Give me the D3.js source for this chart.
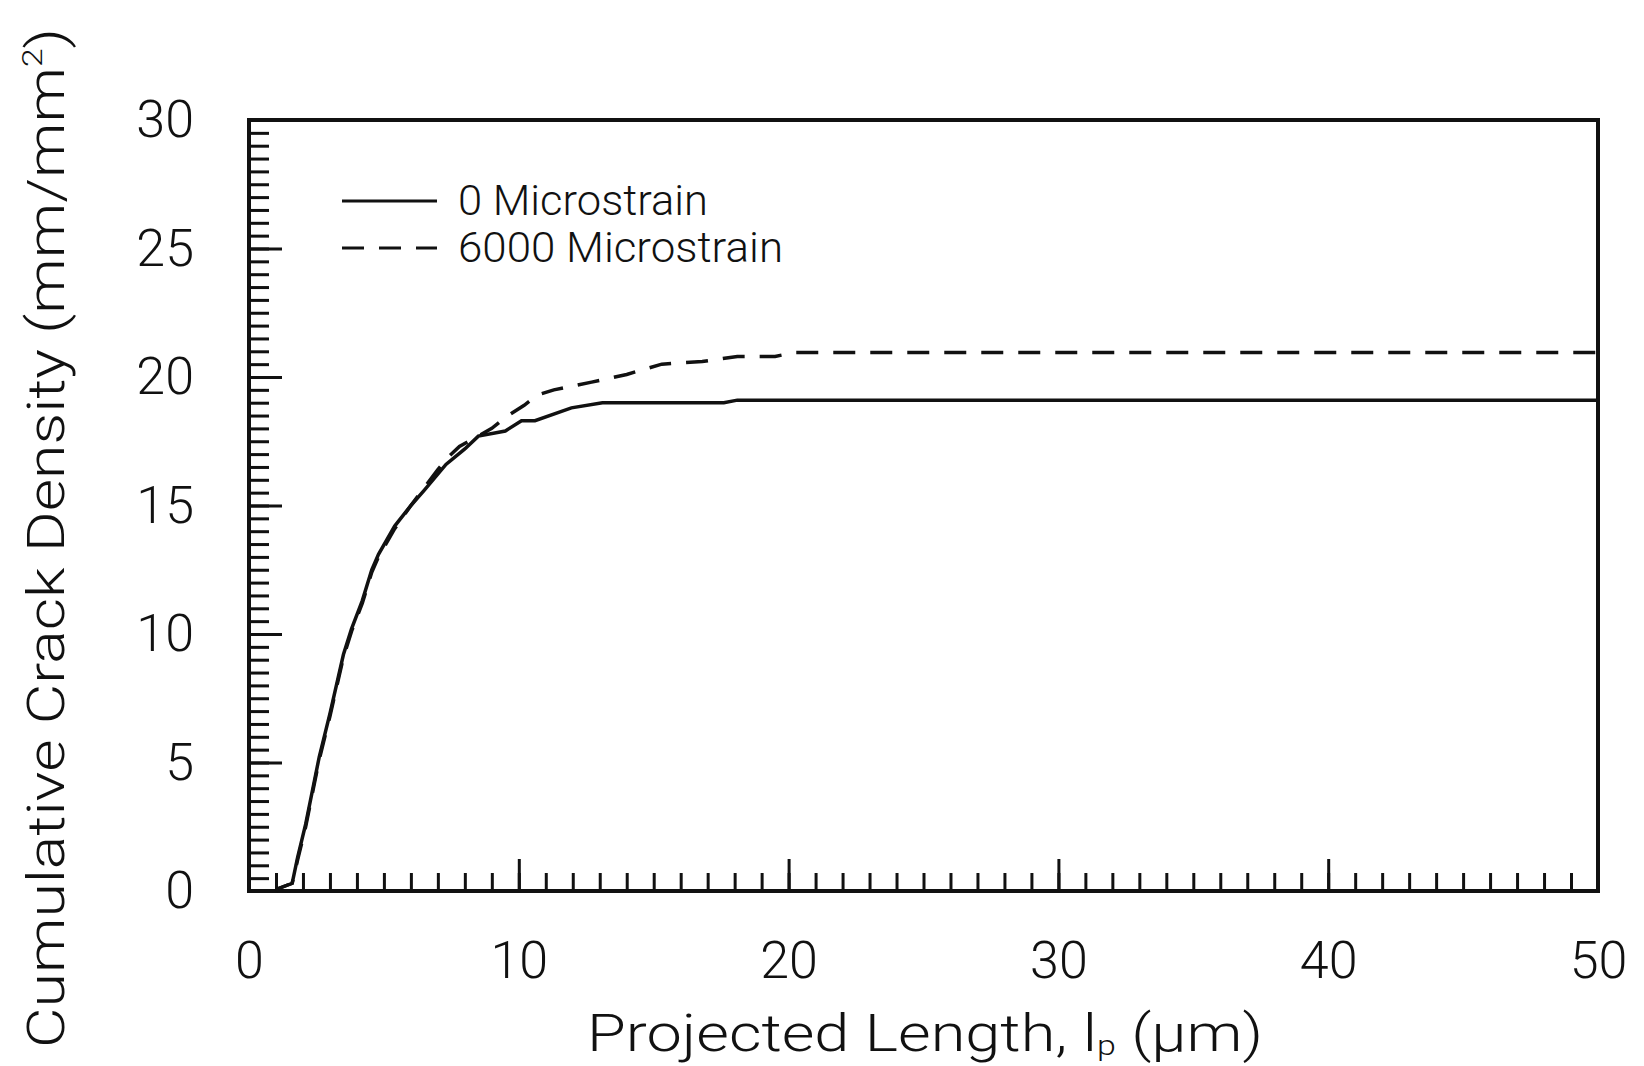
<!DOCTYPE html>
<html>
<head>
<meta charset="utf-8">
<script src="https://cdn.jsdelivr.net/npm/d3@7"></script>
<style>
  html, body { margin: 0; padding: 0; background: #fff; }
  text { font-family: Roboto, "Liberation Sans", sans-serif; font-weight: 300; fill: #111; }
</style>
</head>
<body>
<div id="chart"></div>
<script>
// x values are projected length (um), y values cumulative crack density (mm/mm^2)
const zeroX = [1.0, 1.1, 1.6, 1.8, 2.1, 2.6, 3.0, 3.5, 3.8, 4.2, 4.55, 4.8, 5.4, 6.0, 6.5, 7.3, 8.0, 8.5, 9.5, 10.1, 10.6, 11.95, 13.1, 17.6, 18.1, 50];
const zeroY = [0, 0.1, 0.3, 1.3, 2.6, 5.2, 6.9, 9.2, 10.2, 11.3, 12.5, 13.1, 14.2, 15.0, 15.6, 16.6, 17.2, 17.7, 17.9, 18.3, 18.3, 18.8, 19.0, 19.0, 19.1, 19.1];

const strainX = [1.0, 1.1, 1.6, 1.8, 2.1, 2.6, 3.0, 3.5, 3.8, 4.2, 4.55, 4.8, 5.4, 6.0, 6.5, 7.0, 7.4, 7.8, 9.0, 9.6, 10.2, 10.7, 11.3, 12.7, 14.0, 15.3, 16.8, 18.1, 19.5, 20.2, 50];
const strainY = [0, 0.1, 0.3, 1.2, 2.5, 5.1, 6.8, 9.1, 10.1, 11.2, 12.4, 13.0, 14.1, 15.0, 15.7, 16.4, 16.9, 17.3, 18.0, 18.5, 18.9, 19.3, 19.5, 19.8, 20.1, 20.5, 20.6, 20.8, 20.8, 20.95, 20.95];

const xMajor = [0, 10, 20, 30, 40, 50];
const yMajor = [0, 5, 10, 15, 20, 25, 30];
const seriesNames = ["0 Microstrain", "6000 Microstrain"];

const width = 1644, height = 1066;
const margin = { top: 120, right: 46, bottom: 175, left: 249 };
const iw = width - margin.left - margin.right;
const ih = height - margin.top - margin.bottom;

const svg = d3.select('#chart').append('svg')
  .attr('width', width)
  .attr('height', height);

const g = svg.append('g').attr('transform', `translate(${margin.left},${margin.top})`);

const x = d3.scaleLinear().domain([0, 50]).range([0, iw]);
const y = d3.scaleLinear().domain([0, 30]).range([ih, 0]);

// minor ticks (inward)
g.append('g')
  .attr('transform', `translate(0,${ih})`)
  .call(d3.axisBottom(x).tickValues(d3.range(1, 50)).tickSizeInner(-18).tickSizeOuter(0).tickFormat(''))
  .call(a => a.select('.domain').remove())
  .call(a => a.selectAll('line').attr('stroke', '#111').attr('stroke-width', 3));

g.append('g')
  .call(d3.axisLeft(y).tickValues(d3.range(0.5, 30, 0.5)).tickSizeInner(-20).tickSizeOuter(0).tickFormat(''))
  .call(a => a.select('.domain').remove())
  .call(a => a.selectAll('line').attr('stroke', '#111').attr('stroke-width', 3));

// major ticks with labels
g.append('g')
  .attr('transform', `translate(0,${ih})`)
  .call(d3.axisBottom(x).tickValues(xMajor).tickSizeInner(-32).tickSizeOuter(0).tickPadding(50))
  .call(a => a.select('.domain').remove())
  .call(a => a.selectAll('line').attr('stroke', '#111').attr('stroke-width', 3))
  .call(a => a.selectAll('text').attr('font-size', 52).attr('font-family', null).attr('fill', '#111'));

g.append('g')
  .call(d3.axisLeft(y).tickValues(yMajor).tickSizeInner(-33).tickSizeOuter(0).tickPadding(55))
  .call(a => a.select('.domain').remove())
  .call(a => a.selectAll('line').attr('stroke', '#111').attr('stroke-width', 3))
  .call(a => a.selectAll('text').attr('font-size', 52).attr('font-family', null).attr('fill', '#111'));

// frame
g.append('rect')
  .attr('width', iw).attr('height', ih)
  .attr('fill', 'none').attr('stroke', '#111').attr('stroke-width', 4);

// lines
const line = d3.line().x(d => x(d[0])).y(d => y(d[1]));
const zeroData = zeroX.map((v, i) => [v, zeroY[i]]);
const strainData = strainX.map((v, i) => [v, strainY[i]]);

g.append('path').datum(strainData)
  .attr('d', line).attr('fill', 'none').attr('stroke', '#111')
  .attr('stroke-width', 3.5).attr('stroke-dasharray', '22,15');

g.append('path').datum(zeroData)
  .attr('d', line).attr('fill', 'none').attr('stroke', '#111')
  .attr('stroke-width', 3.5);

// legend
const legend = svg.append('g');
[0, 1].forEach(i => {
  const ly = 201 + i * 47;
  legend.append('line')
    .attr('x1', 342).attr('x2', 437).attr('y1', ly).attr('y2', ly)
    .attr('stroke', '#111').attr('stroke-width', 3)
    .attr('stroke-dasharray', i === 1 ? '22,15' : null);
  legend.append('text')
    .attr('x', 458).attr('y', ly + 14)
    .attr('font-size', 42)
    .attr('textLength', i === 0 ? 250 : 325)
    .attr('lengthAdjust', 'spacingAndGlyphs')
    .text(seriesNames[i]);
});

// x-axis title
const xt = svg.append('text')
  .attr('x', 587).attr('y', 1051)
  .attr('font-size', 52)
  .attr('textLength', 676)
  .attr('lengthAdjust', 'spacingAndGlyphs');
xt.append('tspan').text('Projected Length, l');
xt.append('tspan').attr('font-size', 28).attr('dy', 4).text('p');
xt.append('tspan').attr('dy', -4).text(' (\u03bcm)');

// y-axis title
const yt = svg.append('text')
  .attr('transform', 'translate(64,1048) rotate(-90)')
  .attr('x', 0).attr('y', 0)
  .attr('font-size', 52)
  .attr('textLength', 1020)
  .attr('lengthAdjust', 'spacingAndGlyphs');
yt.append('tspan').text('Cumulative Crack Density (mm/mm');
yt.append('tspan').attr('font-size', 28).attr('dy', -22).text('2');
yt.append('tspan').attr('dy', 22).text(')');
</script>
</body>
</html>
